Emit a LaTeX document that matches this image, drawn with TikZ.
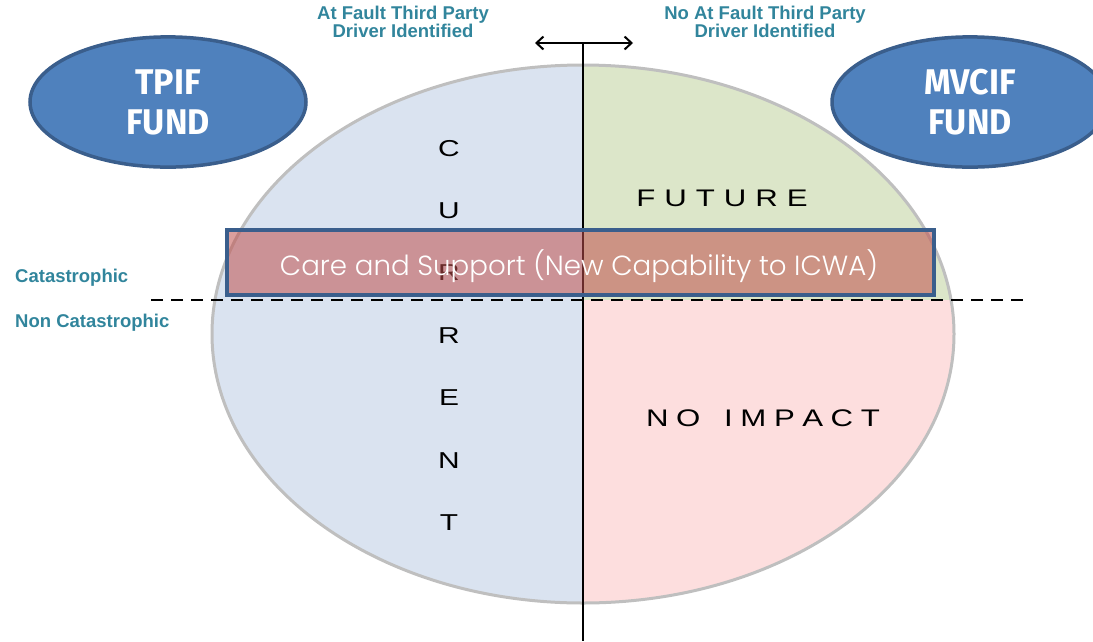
\documentclass[tikz,border=0pt]{standalone}
\usepackage{fontspec}
\setmainfont{Liberation Sans}
\newfontfamily\fundfont{Fira Sans}
\newfontfamily\bandfont{Poppins}[UprightFont={* Light}]
\usetikzlibrary{arrows.meta,shapes.geometric}

\definecolor{qblue}{HTML}{DAE3F0}
\definecolor{qgreen}{HTML}{DCE6C9}
\definecolor{qpink}{HTML}{FDDEDE}
\definecolor{rimgray}{HTML}{BFBFBF}
\definecolor{fundfill}{HTML}{4F81BD}
\definecolor{fundedge}{HTML}{3A5E8C}
\definecolor{tealtext}{HTML}{31859C}
\definecolor{bandred}{HTML}{C0504D}

\tikzset{
  fundnode/.style={ellipse, draw=fundedge, fill=fundfill, line width=3.5pt,
    minimum width=276pt, minimum height=124pt, inner sep=0pt, align=center,
    text=white, font=\fundfont\bfseries\fontsize{34}{38}\selectfont},
  headnode/.style={align=center, text=tealtext,
    font=\bfseries\fontsize{18.5}{16.5}\selectfont},
  sidenode/.style={anchor=west, text=tealtext, inner sep=0pt,
    font=\bfseries\fontsize{18.5}{20}\selectfont},
  letter/.style={inner sep=0pt, xscale=1.3, font=\fontsize{23}{24}\selectfont},
  zone/.style={inner sep=0pt, xscale=1.3, font=\fontsize{24}{26}\selectfont},
  bandbox/.style={rectangle, draw=fundedge, line width=4pt, fill=bandred,
    fill opacity=0.55, text opacity=1, draw opacity=1, text=white,
    minimum width=707pt, minimum height=65pt, inner sep=0pt},
  axisline/.style={line width=2.5pt, black},
  splitline/.style={line width=2pt, black, dash pattern=on 12pt off 8pt},
}

\begin{document}
\begin{tikzpicture}[x=1pt,y=-1pt]
\useasboundingbox (0,0) rectangle (1093,641);

% quadrant fills inside the oval
\begin{scope}
  \clip (583,334) ellipse [x radius=371pt, y radius=269pt];
  \fill[qblue]  (200,50)  rectangle (583,620);
  \fill[qgreen] (583,50)  rectangle (970,300);
  \fill[qpink]  (583,300) rectangle (970,620);
\end{scope}
\draw[rimgray, line width=3pt] (583,334) ellipse [x radius=371pt, y radius=269pt];

% axes
\coordinate (axTop) at (583,43);
\coordinate (axBot) at (583,641);
\coordinate (arrL) at (535,43);
\coordinate (arrR) at (633,43);
\draw[axisline] (axTop) -- (axBot);
\draw[line width=2pt, {Straight Barb[length=7pt,width=13pt]}-{Straight Barb[length=7pt,width=13pt]}] (arrL) -- (arrR);

\coordinate (dashL) at (151,300);
\coordinate (dashR) at (1029,300);
\draw[splitline] (dashL) -- (dashR);

% vertical word
\node[letter] (c1) at (449,149) {C};
\node[letter] (c2) at (449,211) {U};
\node[letter] (c3) at (449,273) {R};
\node[letter] (c4) at (449,336) {R};
\node[letter] (c5) at (449,398) {E};
\node[letter] (c6) at (449,461) {N};
\node[letter] (c7) at (449,523) {T};

% quadrant labels
\node[zone] (future) at (722,198) {F\kern6.9ptU\kern6.9ptT\kern6.9ptU\kern6.9ptR\kern6.9ptE};
\node[zone] (noimpact) at (763,418) {N\kern5.8ptO\kern5.8pt\ \kern5.8ptI\kern5.8ptM\kern5.8ptP\kern5.8ptA\kern5.8ptC\kern5.8ptT};

% band across the oval
\node[bandbox] (band) at (580.5,262.5) {};
\node[inner sep=0pt, text=white] (bandtext) at (579,266)
  {\resizebox{598pt}{!}{\bandfont Care and Support (New Capability to ICWA)}};

% funds
\node[fundnode, yscale=1.05] (tpif) at (168,102) {TPIF\\FUND};
\node[fundnode, yscale=1.05] (mvcif) at (970,102) {MVCIF\\FUND};

% headings
\node[headnode] (hleft) at (403,22) {At Fault Third Party\\Driver Identified};
\node[headnode] (hright) at (765,22) {No At Fault Third Party\\Driver Identified};
\node[sidenode] (cat) at (15,278) {Catastrophic};
\node[sidenode] (noncat) at (15,323) {Non Catastrophic};
\end{tikzpicture}
\end{document}
